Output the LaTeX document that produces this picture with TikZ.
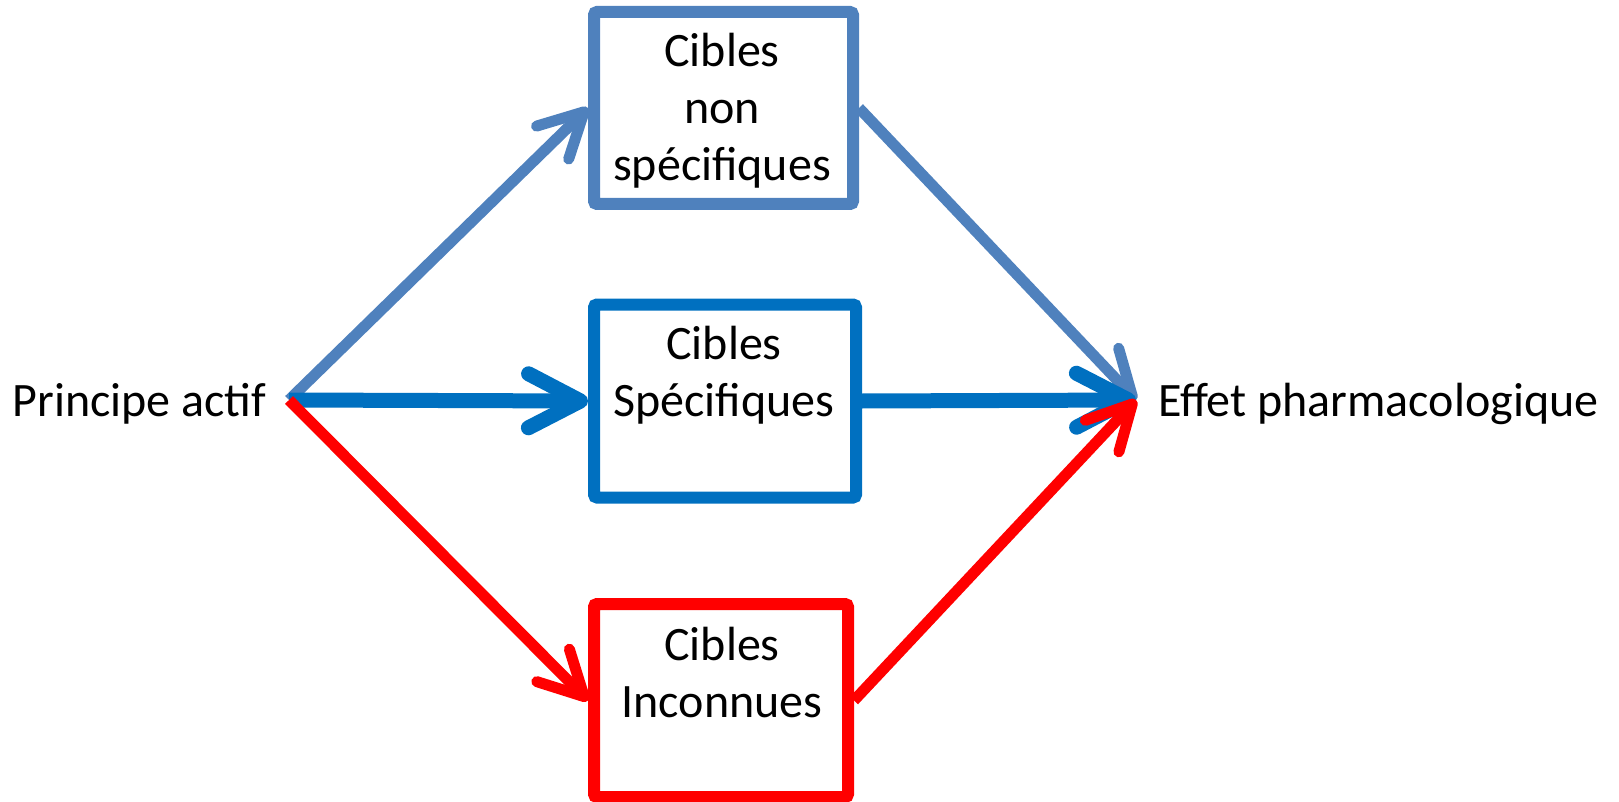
\documentclass[tikz,border=0pt]{standalone}
\usepackage{fontspec}
\setmainfont{Carlito}
\usetikzlibrary{arrows.meta}
\definecolor{steel}{HTML}{4F81BD}
\definecolor{azure}{HTML}{0070C0}
\definecolor{crimson}{HTML}{FF0000}
\begin{document}
\begin{tikzpicture}[x=1pt,y=-1pt,
  every node/.style={font=\fontsize{48}{57}\selectfont},
  cible/.style={draw, line width=12pt, rounded corners=3pt, inner sep=0pt},
  lbl/.style={align=center, anchor=base, inner sep=0pt},
  diag/.style={line width=11pt, -{Straight Barb[length=44pt,width=46pt,round]}},
  horiz/.style={line width=15pt, -{Straight Barb[length=52pt,width=54pt,round]}}]
\useasboundingbox (0,0) rectangle (1619,802);

% target boxes
\node[cible, steel, minimum width=259pt, minimum height=192pt] (b1) at (723.5,108) {};
\node[cible, azure, minimum width=262pt, minimum height=193pt] (b2) at (725,401) {};
\node[cible, crimson, minimum width=254pt, minimum height=193pt] (b3) at (721,700.5) {};

% box captions (anchored on the last line's baseline)
\node[lbl] (t1) at (722,181) {Cibles\\non\\spécifiques};
\node[lbl] (t2) at (724,416) {Cibles\\Spécifiques};
\node[lbl] (t3) at (722,717.5) {Cibles\\Inconnues};

% end labels
\node[anchor=base west, inner sep=0pt] (pa) at (12.4,416) {Principe actif};
\node[anchor=base west, inner sep=0pt] (ef) at (1158,416) {Effet pharmacologique};
\coordinate (src) at (289,400);
\coordinate (dst) at (1136,400);

% connectors
\draw[diag, steel] (src) -- (b1.west);
\draw[diag, steel] (b1.east) -- (dst);
\draw[horiz, azure] (src) -- (b2.west);
\draw[horiz, azure] (b2.east) -- (dst);
\draw[diag, crimson] (src) -- (b3.west);
\draw[diag, crimson] (b3.east) -- (dst);
\end{tikzpicture}
\end{document}
